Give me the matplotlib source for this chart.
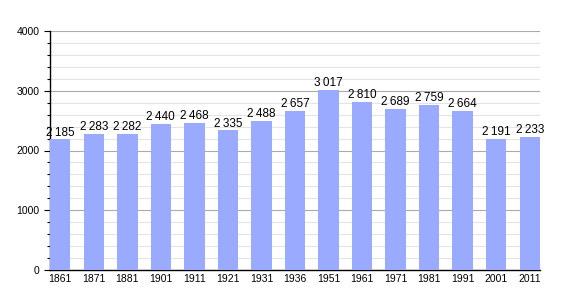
import numpy as np
import matplotlib
matplotlib.use("Agg")
from matplotlib import pyplot as plt
from matplotlib.ticker import MultipleLocator

years = ["1861", "1871", "1881", "1901", "1911", "1921", "1931", "1936",
         "1951", "1961", "1971", "1981", "1991", "2001", "2011"]
population = [2185, 2283, 2282, 2440, 2468, 2335, 2488, 2657,
              3017, 2810, 2689, 2759, 2664, 2191, 2233]

plt.rcParams['font.family'] = ['Liberation Sans', 'DejaVu Sans']

fig = plt.figure(figsize=(5.7, 3.0), dpi=100)
ax = fig.add_axes([50 / 570, 30 / 300, 490 / 570, 239 / 300])

width = 0.61
x = np.arange(len(years))
ax.bar(x, population, width=width, color='#99aaff', zorder=3)

for xi, v in zip(x, population):
    label = "{}\u2009{:03d}".format(v // 1000, v % 1000)
    ax.text(xi, v + 15, label, ha='center', va='bottom', fontsize=8.5, zorder=4)

ax.set_xlim(-width / 2, len(years) - 1 + width / 2)
ax.set_ylim(0, 4000)
ax.set_xticks(x)
ax.set_xticklabels(years, fontsize=7.5)
ax.yaxis.set_major_locator(MultipleLocator(1000))
ax.yaxis.set_minor_locator(MultipleLocator(200))
ax.tick_params(axis='y', labelsize=7.5, length=4, width=0.8)
ax.tick_params(axis='y', which='minor', length=2, width=0.8)
ax.tick_params(axis='x', length=0, pad=3)

ax.grid(axis='y', which='major', color='#aaaaaa', linewidth=0.8, zorder=0)
ax.grid(axis='y', which='minor', color='#e4e4e4', linewidth=0.8, zorder=0)

for s in ['top', 'right']:
    ax.spines[s].set_visible(False)
ax.spines['left'].set_linewidth(1)
ax.spines['bottom'].set_linewidth(1)

fig.savefig("out.png", dpi=100)
